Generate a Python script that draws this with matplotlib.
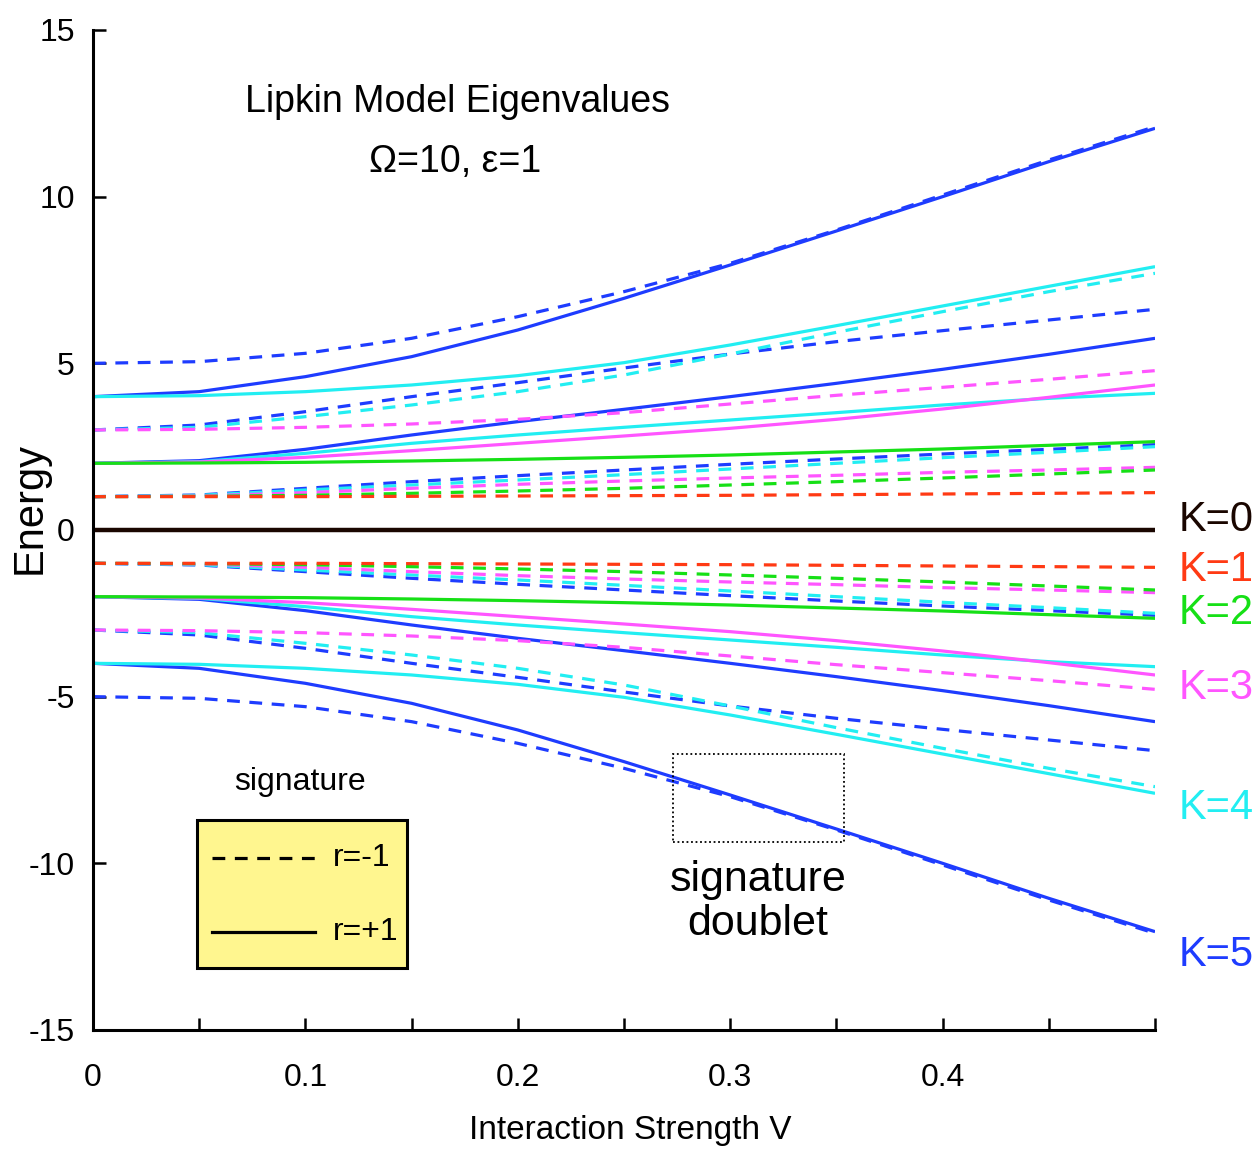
import numpy as np
import matplotlib.pyplot as plt
from matplotlib.patches import Rectangle
from matplotlib.lines import Line2D

plt.rcParams['axes.unicode_minus'] = False
sans = ['Liberation Sans', 'DejaVu Sans']

# interaction strength samples
V = [0.0, 0.05, 0.1, 0.15, 0.2, 0.25, 0.3, 0.35, 0.4, 0.45, 0.5]

# upper branch
k5_d5 = [5.0, 5.05, 5.3, 5.75, 6.4, 7.15, 8.0, 9.0, 10.05, 11.1, 12.1]
k5_s4 = [4.0, 4.15, 4.6, 5.2, 6.0, 6.95, 7.95, 8.97, 10.0, 11.05, 12.05]
k5_d3 = [3.0, 3.15, 3.55, 4.0, 4.42, 4.86, 5.28, 5.65, 5.98, 6.3, 6.62]
k5_s2 = [2.0, 2.08, 2.42, 2.85, 3.25, 3.62, 4.0, 4.4, 4.82, 5.27, 5.75]
k5_d1 = [1.0, 1.05, 1.25, 1.45, 1.63, 1.8, 1.97, 2.13, 2.28, 2.42, 2.56]
k4_s4 = [4.0, 4.03, 4.15, 4.35, 4.63, 5.02, 5.55, 6.13, 6.72, 7.31, 7.9]
k4_d3 = [3.0, 3.08, 3.4, 3.75, 4.15, 4.65, 5.28, 5.93, 6.55, 7.15, 7.7]
k4_s2 = [2.0, 2.05, 2.3, 2.6, 2.85, 3.08, 3.3, 3.52, 3.75, 3.95, 4.1]
k4_d1 = [1.0, 1.04, 1.2, 1.35, 1.5, 1.66, 1.83, 2.0, 2.17, 2.33, 2.5]
k3_d3 = [3.0, 3.02, 3.08, 3.18, 3.32, 3.52, 3.78, 4.04, 4.28, 4.52, 4.78]
k3_s2 = [2.0, 2.04, 2.18, 2.38, 2.6, 2.82, 3.05, 3.32, 3.63, 3.98, 4.35]
k3_d1 = [1.0, 1.02, 1.12, 1.25, 1.37, 1.47, 1.56, 1.64, 1.73, 1.8, 1.88]
k2_s2 = [2.0, 2.01, 2.03, 2.07, 2.12, 2.18, 2.25, 2.34, 2.43, 2.54, 2.65]
k2_d1 = [1.0, 1.01, 1.04, 1.1, 1.17, 1.25, 1.35, 1.45, 1.56, 1.68, 1.8]
k1_d1 = [1.0, 1.0, 1.0, 1.01, 1.02, 1.03, 1.04, 1.06, 1.08, 1.1, 1.12]
k0_s0 = [0.0, 0.0, 0.0, 0.0, 0.0, 0.0, 0.0, 0.0, 0.0, 0.0, 0.0]

# lower branch
k5_dm5 = [-5.0, -5.05, -5.3, -5.75, -6.4, -7.15, -8.0, -9.0, -10.05, -11.1, -12.1]
k5_sm4 = [-4.0, -4.15, -4.6, -5.2, -6.0, -6.95, -7.95, -8.97, -10.0, -11.05, -12.05]
k5_dm3 = [-3.0, -3.15, -3.55, -4.0, -4.42, -4.86, -5.28, -5.65, -5.98, -6.3, -6.62]
k5_sm2 = [-2.0, -2.08, -2.42, -2.85, -3.25, -3.62, -4.0, -4.4, -4.82, -5.27, -5.75]
k5_dm1 = [-1.0, -1.05, -1.25, -1.45, -1.63, -1.8, -1.97, -2.13, -2.28, -2.42, -2.56]
k4_sm4 = [-4.0, -4.03, -4.15, -4.35, -4.63, -5.02, -5.55, -6.13, -6.72, -7.31, -7.9]
k4_dm3 = [-3.0, -3.08, -3.4, -3.75, -4.15, -4.65, -5.28, -5.93, -6.55, -7.15, -7.7]
k4_sm2 = [-2.0, -2.05, -2.3, -2.6, -2.85, -3.08, -3.3, -3.52, -3.75, -3.95, -4.1]
k4_dm1 = [-1.0, -1.04, -1.2, -1.35, -1.5, -1.66, -1.83, -2.0, -2.17, -2.33, -2.5]
k3_dm3 = [-3.0, -3.02, -3.08, -3.18, -3.32, -3.52, -3.78, -4.04, -4.28, -4.52, -4.78]
k3_sm2 = [-2.0, -2.04, -2.18, -2.38, -2.6, -2.82, -3.05, -3.32, -3.63, -3.98, -4.35]
k3_dm1 = [-1.0, -1.02, -1.12, -1.25, -1.37, -1.47, -1.56, -1.64, -1.73, -1.8, -1.88]
k2_sm2 = [-2.0, -2.01, -2.03, -2.07, -2.12, -2.18, -2.25, -2.34, -2.43, -2.54, -2.65]
k2_dm1 = [-1.0, -1.01, -1.04, -1.1, -1.17, -1.25, -1.35, -1.45, -1.56, -1.68, -1.8]
k1_dm1 = [-1.0, -1.0, -1.0, -1.01, -1.02, -1.03, -1.04, -1.06, -1.08, -1.1, -1.12]

k_labels = ['K=0', 'K=1', 'K=2', 'K=3', 'K=4', 'K=5']
k_colors = ['#1a0600', '#ff3a14', '#16e016', '#ff55ff', '#22eef2', '#1e3cff']

x_ticks = [0.0, 0.05, 0.1, 0.15, 0.2, 0.25, 0.3, 0.35, 0.4, 0.45, 0.5]
x_ticklabels = ['0', '', '0.1', '', '0.2', '', '0.3', '', '0.4', '', '']
y_ticks = [-15, -10, -5, 0, 5, 10, 15]

fig = plt.figure(figsize=(12.57, 11.62), dpi=100)
ax = fig.add_axes([0.074, 0.1136, 0.8449, 0.8606])

DASH = (0, (4, 3))
lw = 2.3

# (series, K, dashed) -- drawn from K=5 up so the low K lines sit on top
series = [
    (k5_d5, 5, True), (k5_s4, 5, False), (k5_d3, 5, True), (k5_s2, 5, False), (k5_d1, 5, True),
    (k5_dm5, 5, True), (k5_sm4, 5, False), (k5_dm3, 5, True), (k5_sm2, 5, False), (k5_dm1, 5, True),
    (k4_s4, 4, False), (k4_d3, 4, True), (k4_s2, 4, False), (k4_d1, 4, True),
    (k4_sm4, 4, False), (k4_dm3, 4, True), (k4_sm2, 4, False), (k4_dm1, 4, True),
    (k3_d3, 3, True), (k3_s2, 3, False), (k3_d1, 3, True),
    (k3_dm3, 3, True), (k3_sm2, 3, False), (k3_dm1, 3, True),
    (k2_s2, 2, False), (k2_d1, 2, True), (k2_sm2, 2, False), (k2_dm1, 2, True),
    (k1_d1, 1, True), (k1_dm1, 1, True),
    (k0_s0, 0, False),
]
for vals, k, dashed in series:
    ax.plot(V, vals, color=k_colors[k], lw=lw if k else 3.2,
            linestyle=DASH if dashed else '-', solid_capstyle='butt')

ax.set_xlim(0, 0.5)
ax.set_ylim(-15, 15)
ax.set_xticks(x_ticks)
ax.set_xticklabels(x_ticklabels)
ax.set_yticks(y_ticks)
for s in ['top', 'right']:
    ax.spines[s].set_visible(False)
for s in ['left', 'bottom']:
    ax.spines[s].set_linewidth(2.2)
ax.tick_params(direction='in', length=9, width=1.8)
ax.tick_params(axis='x', pad=24)
ax.tick_params(axis='y', pad=13)
for lab in ax.get_xticklabels() + ax.get_yticklabels():
    lab.set_fontfamily(sans)
    lab.set_fontsize(23)

fig.text(30 / 1257, 1 - 508 / 1162, 'Energy', rotation=90, ha='center', va='center',
         family=sans, fontsize=30)
fig.text(630 / 1257, 1 - 1130 / 1162, 'Interaction Strength V', ha='center', va='center',
         family=sans, fontsize=24)

ax.text(0.343, 0.928, 'Lipkin Model Eigenvalues', transform=ax.transAxes, ha='center',
        va='center', family=sans, fontsize=27)
ax.text(0.341, 0.868, 'Ω=10, ε=1', transform=ax.transAxes, ha='center', va='center',
        family=sans, fontsize=27)

# K labels on the right
k_label_y = [0.51, 0.46, 0.417, 0.342, 0.222, 0.075]
for lab, col, yy in zip(k_labels, k_colors, k_label_y):
    ax.text(1.022, yy, lab, transform=ax.transAxes, ha='left', va='center',
            color=col, family=sans, fontsize=30, clip_on=False)

# signature key box
ax.add_patch(Rectangle((0.098, 0.062), 0.198, 0.148, transform=ax.transAxes,
                       facecolor='#fff68f', edgecolor='black', lw=2.2, zorder=5))
ax.text(0.195, 0.248, 'signature', transform=ax.transAxes, ha='center', va='center',
        family=sans, fontsize=23)
ax.add_line(Line2D([0.112, 0.209], [0.172, 0.172], transform=ax.transAxes, color='black',
                   lw=2.3, linestyle=(0, (4, 3)), zorder=6))
ax.add_line(Line2D([0.112, 0.209], [0.098, 0.098], transform=ax.transAxes, color='black',
                   lw=2.3, zorder=6))
ax.text(0.226, 0.172, 'r=-1', transform=ax.transAxes, ha='left', va='center',
        family=sans, fontsize=23, zorder=6)
ax.text(0.226, 0.098, 'r=+1', transform=ax.transAxes, ha='left', va='center',
        family=sans, fontsize=23, zorder=6)

# signature doublet marker
ax.add_patch(Rectangle((0.546, 0.188), 0.161, 0.088, transform=ax.transAxes,
                       fill=False, edgecolor='black', lw=1.3, linestyle=(0, (1, 1.5)), zorder=6))
ax.text(0.626, 0.128, 'signature\ndoublet', transform=ax.transAxes, ha='center',
        va='center', family=sans, fontsize=31, linespacing=1.1)

fig.savefig('out.png', dpi=100)
